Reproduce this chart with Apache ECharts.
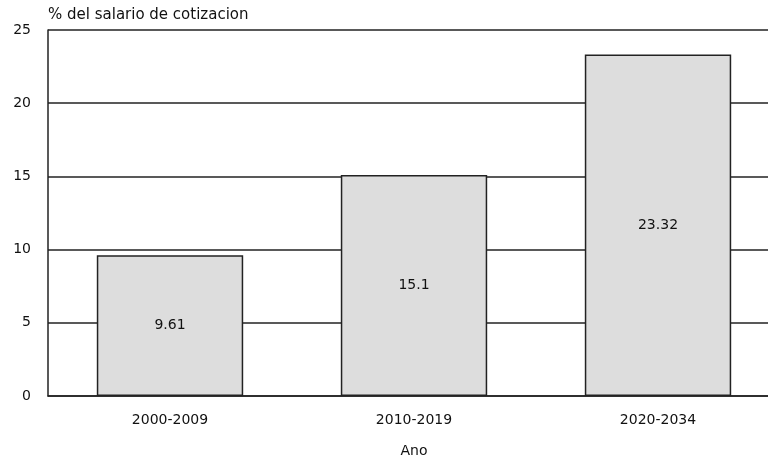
<!DOCTYPE html>
<html>
<head>
<meta charset="utf-8">
<script src="https://cdn.jsdelivr.net/npm/echarts@6/dist/echarts.min.js"></script>
<style>
  html, body { margin: 0; padding: 0; background: #fff; overflow: hidden; }
  #chart { width: 768px; height: 462px; }
</style>
</head>
<body>
<div id="chart"></div>
<script>
// Periods and contribution rate (% of contributory salary)
const periods = ['2000-2009', '2010-2019', '2020-2034'];
const rates = [9.61, 15.1, 23.32];
const yTicks = [0, 5, 10, 15, 20, 25];

const font = 'DejaVu Sans, sans-serif';
const chart = echarts.init(document.getElementById('chart'));
chart.setOption({
  animation: false,
  // plot runs slightly past the right edge of the canvas
  grid: { left: 48, width: 732, top: 30, bottom: 66, outerBoundsMode: 'none', containLabel: false },
  xAxis: {
    type: 'category',
    data: periods,
    name: 'Ano',
    nameLocation: 'middle',
    nameGap: 48,
    nameTextStyle: { color: '#111', fontSize: 14, fontFamily: font },
    axisLine: { lineStyle: { color: '#222', width: 1.5 } },
    axisTick: { show: false },
    axisLabel: { color: '#111', fontSize: 14, fontFamily: font, margin: 17 }
  },
  yAxis: {
    type: 'value',
    min: yTicks[0],
    max: yTicks[yTicks.length - 1],
    interval: 5,
    name: '% del salario de cotizacion',
    nameLocation: 'end',
    nameGap: 7,
    nameTextStyle: { color: '#111', fontSize: 15, fontFamily: font, align: 'left' },
    axisLine: { show: true, lineStyle: { color: '#222', width: 1.5 } },
    axisTick: { show: false },
    axisLabel: { color: '#111', fontSize: 14, fontFamily: font, margin: 17 },
    splitLine: { lineStyle: { color: '#222', width: 1.5 } }
  },
  series: [{
    type: 'bar',
    data: rates,
    barWidth: '60%',
    itemStyle: { color: '#dddddd', borderColor: '#222', borderWidth: 1.5 },
    label: {
      show: true,
      position: 'inside',
      color: '#111',
      fontSize: 14,
      fontFamily: font
    }
  }]
});
</script>
</body>
</html>
